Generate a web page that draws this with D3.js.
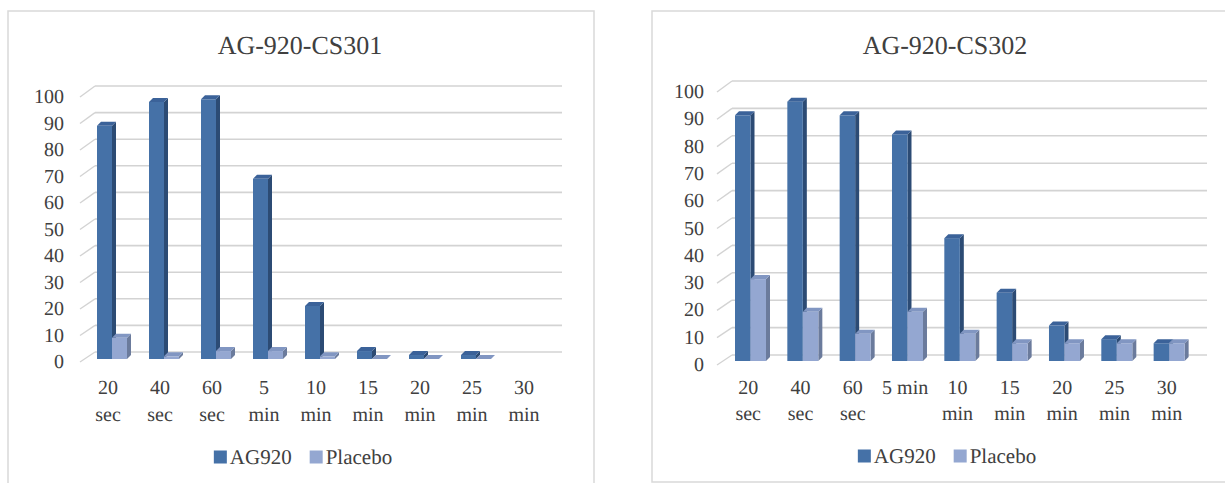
<!DOCTYPE html>
<html>
<head>
<meta charset="utf-8">
<script src="https://cdn.jsdelivr.net/npm/d3@7"></script>
<style>
  html, body { margin: 0; padding: 0; background: #ffffff; }
  svg { display: block; }
</style>
</head>
<body>
<svg id="chart" width="1225" height="483" text-rendering="geometricPrecision"></svg>
<script>
// Time points after dosing
const categories = ["20 sec", "40 sec", "60 sec", "5 min", "10 min", "15 min", "20 min", "25 min", "30 min"];

// Study AG-920-CS301 (null = no value recorded)
const ag920CS301   = [88, 97, 98, 68, 20, 3, 1.5, 1.5, null];
const placeboCS301 = [8, 1, 3, 3, 1, 0, 0, 0, null];

// Study AG-920-CS302
const ag920CS302   = [90, 95, 90, 83, 45, 25, 13, 8, 6.5];
const placeboCS302 = [30, 18, 10, 18, 10, 6.5, 6.5, 6.5, 6.5];

const seriesNames = ["AG920", "Placebo"];
const yTicks = [0, 10, 20, 30, 40, 50, 60, 70, 80, 90, 100];

// Category tick labels as wrapped lines
const tickLines301 = [["20", "sec"], ["40", "sec"], ["60", "sec"], ["5", "min"], ["10", "min"],
                      ["15", "min"], ["20", "min"], ["25", "min"], ["30", "min"]];
const tickLines302 = [["20", "sec"], ["40", "sec"], ["60", "sec"], ["5 min"], ["10", "min"],
                      ["15", "min"], ["20", "min"], ["25", "min"], ["30", "min"]];

const palette = {
  AG920:   { front: "#4571a7", side: "#2c4b74", top: "#3b6299" },
  Placebo: { front: "#94a7d1", side: "#6b7b9c", top: "#8196c2" }
};

const FONT = "Liberation Serif";
const TEXT_COLOR = "#404040";
const svg = d3.select("#chart");

// shared text styling as presentation attributes
function styled(sel, size) {
  return sel.attr("font-family", FONT).attr("font-size", size).attr("fill", TEXT_COLOR)
    .attr("text-rendering", "geometricPrecision");
}

function drawChart(spec, L) {
  const g = svg.append("g");

  // panel frame
  g.append("rect")
    .attr("x", L.frame[0]).attr("y", L.frame[1])
    .attr("width", L.frame[2]).attr("height", L.frame[3])
    .attr("fill", "#ffffff").attr("stroke", "#d9d9d9").attr("stroke-width", 1.5);

  // title
  styled(g.append("text"), 26)
    .attr("x", L.titleX).attr("y", L.titleY)
    .attr("text-anchor", "middle").attr("dominant-baseline", "central")
    .text(spec.title);

  // scales: front edge of the floor, back wall, and the bar faces
  const yFront = d3.scaleLinear().domain([0, 100]).range(L.yFront);
  const yBack  = d3.scaleLinear().domain([0, 100]).range(L.yBack);
  const yBar   = d3.scaleLinear().domain([0, 100]).range(L.yBar);

  const x = d3.scaleBand().domain(categories).range(L.xRange).padding(0);
  const xs = d3.scaleBand().domain(seriesNames)
    .range([L.groupOffset, L.groupOffset + L.groupWidth]).padding(0);

  // gridlines on the back wall with the 3D side-wall ticks
  const grid = g.append("g");
  yTicks.forEach(t => {
    grid.append("line")
      .attr("x1", L.wallX).attr("x2", L.gridEnd)
      .attr("y1", yBack(t)).attr("y2", yBack(t))
      .attr("stroke", "#d3d3d3").attr("stroke-width", 1.6);
    grid.append("line")
      .attr("x1", L.axisX).attr("x2", L.wallX)
      .attr("y1", yFront(t)).attr("y2", yBack(t))
      .attr("stroke", "#d3d3d3").attr("stroke-width", 1.4);
  });

  // y axis labels
  styled(g.append("g").selectAll("text").data(yTicks).join("text"), 20)
    .attr("x", L.yLabelX).attr("y", d => yFront(d))
    .attr("text-anchor", "end").attr("dominant-baseline", "central")
    .text(d => d);

  // 3D columns
  const dx = 4, dy = -4;
  const bars = g.append("g");
  categories.forEach((c, i) => {
    seriesNames.forEach((s, si) => {
      const v = spec.values[si][i];
      if (v == null) return;
      const col = palette[s];
      const x0 = x(c) + xs(s), w = xs.bandwidth();
      const yt = yBar(v), yb = yBar(0);
      bars.append("polygon")
        .attr("points", [[x0 + w, yt], [x0 + w + dx, yt + dy], [x0 + w + dx, yb + dy], [x0 + w, yb]].join(" "))
        .attr("fill", col.side);
      bars.append("rect")
        .attr("x", x0).attr("y", yt).attr("width", w).attr("height", yb - yt)
        .attr("fill", col.front);
      bars.append("polygon")
        .attr("points", [[x0, yt], [x0 + dx, yt + dy], [x0 + w + dx, yt + dy], [x0 + w, yt]].join(" "))
        .attr("fill", col.top);
    });
  });

  // category labels
  const xl = g.append("g");
  categories.forEach((c, i) => {
    const cx = x(c) + x.bandwidth() / 2 + L.labelShift;
    spec.tickLines[i].forEach((line, li) => {
      styled(xl.append("text"), 20)
        .attr("x", cx).attr("y", L.labelY + li * L.lineGap)
        .attr("text-anchor", "middle").attr("dominant-baseline", "central")
        .text(line);
    });
  });

  // legend
  const leg = g.append("g");
  const sq = 13, gapText = 3, gapItem = 18;
  let cursor = 0;
  seriesNames.forEach(s => {
    const it = leg.append("g");
    it.append("rect").attr("x", 0).attr("y", -sq / 2).attr("width", sq).attr("height", sq)
      .attr("fill", palette[s].front);
    const tx = styled(it.append("text"), 21)
      .attr("x", sq + gapText).attr("y", 0)
      .attr("dominant-baseline", "central").text(s);
    const wdt = sq + gapText + tx.node().getComputedTextLength();
    it.attr("transform", `translate(${cursor},0)`);
    cursor += wdt + gapItem;
  });
  const total = cursor - gapItem;
  leg.attr("transform", `translate(${L.legendCX - total / 2},${L.legendY})`);
}

drawChart(
  { title: "AG-920-CS301", values: [ag920CS301, placeboCS301], tickLines: tickLines301 },
  {
    frame: [8, 11, 586, 490], titleX: 300, titleY: 45,
    yFront: [362, 97], yBack: [352, 86], yBar: [359, 94],
    axisX: 80, wallX: 95, gridEnd: 562, yLabelX: 64,
    xRange: [86, 86 + 9 * 52], groupOffset: 11, groupWidth: 30,
    labelY: 388, lineGap: 27, labelShift: -4,
    legendCX: 303, legendY: 457
  }
);

drawChart(
  { title: "AG-920-CS302", values: [ag920CS302, placeboCS302], tickLines: tickLines302 },
  {
    frame: [652, 11, 600, 471], titleX: 945, titleY: 45,
    yFront: [365, 92], yBack: [355, 81], yBar: [361, 88],
    axisX: 717, wallX: 732, gridEnd: 1207, yLabelX: 704,
    xRange: [724, 724 + 9 * 52.33], groupOffset: 11, groupWidth: 31,
    labelY: 388, lineGap: 26, labelShift: -2,
    legendCX: 947, legendY: 456
  }
);
</script>
</body>
</html>
